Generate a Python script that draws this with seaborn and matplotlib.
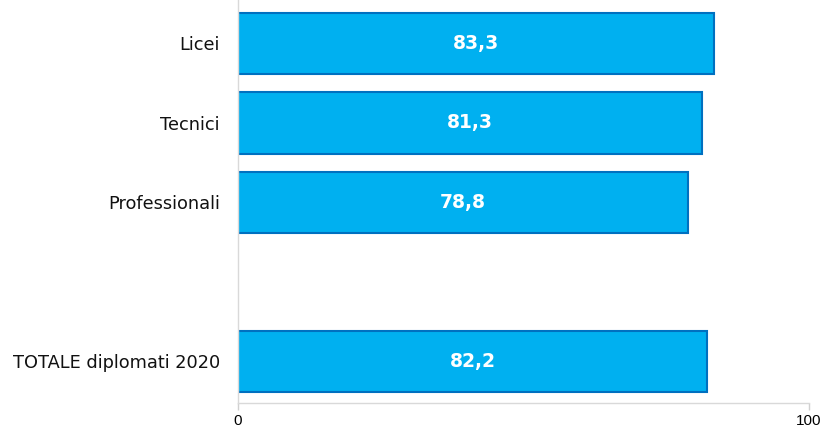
import matplotlib
matplotlib.use("Agg")
import matplotlib.pyplot as plt
import seaborn as sns
import pandas as pd

categories = ["Licei", "Tecnici", "Professionali", "TOTALE diplomati 2020"]
values = [83.3, 81.3, 78.8, 82.2]
order = ["Licei", "Tecnici", "Professionali", " ", "TOTALE diplomati 2020"]
x_ticks = [0, 100]

sns.set_theme(style="white")
plt.rcParams["font.family"] = ["DejaVu Sans"]

df = pd.DataFrame({"tipo": categories, "valore": values})

fig = plt.figure(figsize=(8.23, 4.30), dpi=100)
ax = fig.add_axes([238 / 823, 27 / 430, 571 / 823, 403 / 430])

sns.barplot(data=df, y="tipo", x="valore", order=order, orient="h",
            color="#00B0F0", saturation=1, width=0.77,
            edgecolor="#0070C0", linewidth=1.5, ax=ax)

for patch in ax.patches:
    w = patch.get_width()
    if w != w or w == 0:
        continue
    ax.text(w / 2, patch.get_y() + patch.get_height() / 2,
            f"{w:.1f}".replace(".", ","), ha="center", va="center",
            color="white", fontsize=13.5, fontweight="bold")

ax.set_xlim(0, 100)
ax.set_ylim(4.522, -0.547)
ax.set_xticks(x_ticks)
ax.set_xticklabels([str(t) for t in x_ticks], fontsize=11,
                   family="Liberation Sans")
ax.set_xlabel("")
ax.set_ylabel("")
ax.tick_params(axis="x", length=5, width=1, color="#d0d0d0", pad=3,
               bottom=True, labelcolor="black")
ax.tick_params(axis="y", length=0, pad=13, labelsize=12.8, labelcolor="#111111")
for side in ["top", "right"]:
    ax.spines[side].set_visible(False)
for side in ["left", "bottom"]:
    ax.spines[side].set_color("#d9d9d9")
    ax.spines[side].set_linewidth(1.0)

fig.savefig("out.png", dpi=100)
